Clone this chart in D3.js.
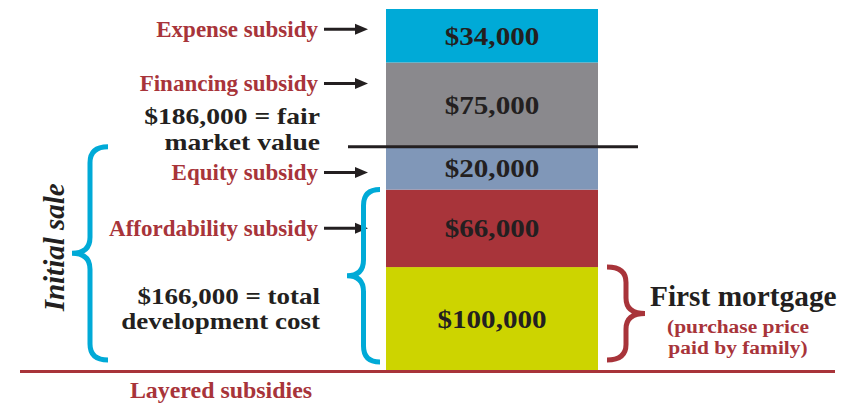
<!DOCTYPE html>
<html>
<head>
<meta charset="utf-8">
<script src="https://cdn.jsdelivr.net/npm/d3@7"></script>
<style>
  body { margin: 0; background: #fff; }
  text { font-family: "Liberation Serif", "Times New Roman", serif; font-weight: bold; }
</style>
</head>
<body>
<script>
// layers, bottom to top
const layers = ["First mortgage", "Affordability subsidy", "Equity subsidy", "Financing subsidy", "Expense subsidy"];
const amounts = [100000, 66000, 20000, 75000, 34000];
const colors = ["#cdd400", "#a8343a", "#8097b8", "#8a898d", "#00aad7"];
// where the side arrow hits each layer (fraction from the top of the layer)
const arrowAt = [null, 0.5, 0.6, 0.25, 0.38];

var w = 854, h = 408;
var red = "#a8343a", ink = "#231f20", cyan = "#00aad7";
var svg = d3.select("body").append("svg").attr("width", w).attr("height", h);
var fmt = d3.format("$,");

var x = d3.scaleBand().domain(["stack"]).range([386, 598]);
// infographic layers are not drawn to scale: each gets a floor height plus a share of its value
var segH = d3.scaleLinear().domain([0, 100000]).range([28, 103]);
var shown = amounts.map(segH);
var tops = d3.cumsum(shown);
var y = d3.scaleLinear().domain([0, d3.sum(shown)]).range([370, 9]);

var segs = amounts.map((v, i) => ({
    name: layers[i], v: v, i: i,
    y0: i ? tops[i - 1] : 0, y1: tops[i]
}));

// text helper: lines of text at (tx, ty), optionally widened (the original face is broader than Times)
function label(lines, tx, ty, o) {
    var g = svg.append("g").attr("transform", "translate(" + tx + "," + ty + ") scale(" + (o.sx || 1) + ",1)");
    var t = g.append("text")
        .attr("text-anchor", o.anchor || "start")
        .attr("fill", o.fill || ink)
        .style("font-size", o.size + "px");
    if (o.italic) t.style("font-style", "italic");
    [].concat(lines).forEach((s, i) => t.append("tspan").attr("x", 0).attr("y", i * (o.gap || 0)).attr("dy", o.dy || null).text(s));
    return g;
}

svg.selectAll("rect.seg")
    .data(segs)
    .enter().append("rect")
    .attr("class", "seg")
    .attr("x", x("stack"))
    .attr("width", x.bandwidth())
    .attr("y", d => y(d.y1))
    .attr("height", d => y(d.y0) - y(d.y1))
    .attr("fill", (d, i) => colors[i]);

segs.forEach(d => {
    label(fmt(d.v), x("stack") + x.bandwidth() / 2, (y(d.y0) + y(d.y1)) / 2,
        { size: 26, anchor: "middle", sx: 1.12, dy: "0.35em" });
});

// ground line
svg.append("line")
    .attr("x1", 20).attr("x2", 835)
    .attr("y1", y(0) + 1.5).attr("y2", y(0) + 1.5)
    .attr("stroke", red).attr("stroke-width", 3);

// fair market value line
var fairY = y(tops[2]);
svg.append("line")
    .attr("x1", 348).attr("x2", 638)
    .attr("y1", fairY).attr("y2", fairY)
    .attr("stroke", ink).attr("stroke-width", 3);

// subsidy labels with arrows
segs.filter(d => arrowAt[d.i] != null).forEach(d => {
    var ya = y(d.y1) + arrowAt[d.i] * (y(d.y0) - y(d.y1));
    label(d.name, 318, ya, { size: 23, anchor: "end", fill: red, dy: "0.32em" });
    svg.append("line")
        .attr("x1", 324).attr("x2", 357)
        .attr("y1", ya).attr("y2", ya)
        .attr("stroke", ink).attr("stroke-width", 3);
    svg.append("path")
        .attr("d", "M355," + (ya - 5.5) + "L368," + ya + "L355," + (ya + 5.5) + "Z")
        .attr("fill", ink);
});

var fairValue = d3.sum(amounts.slice(0, 3));
var devCost = d3.sum(amounts.slice(0, 2));

label([fmt(fairValue) + " = fair", "market value"], 320, fairY - 23, { size: 23, anchor: "end", sx: 1.2, gap: 26 });
var devMid = (y(0) + y(tops[0])) / 2;
label([fmt(devCost) + " = total", "development cost"], 320, devMid - 15, { size: 22.5, anchor: "end", sx: 1.2, gap: 25 });

// curly brace: tip at xt, open ends at xe, from ya to yb
function brace(xt, xe, ya, yb, color) {
    var xm = (xt + xe) / 2, ym = (ya + yb) / 2, r = Math.min(16, (yb - ya) / 6);
    var p = d3.path();
    p.moveTo(xe, ya);
    p.quadraticCurveTo(xm, ya, xm, ya + r);
    p.lineTo(xm, ym - r);
    p.quadraticCurveTo(xm, ym, xt, ym);
    p.quadraticCurveTo(xm, ym, xm, ym + r);
    p.lineTo(xm, yb - r);
    p.quadraticCurveTo(xm, yb, xe, yb);
    svg.append("path")
        .attr("d", p.toString())
        .attr("fill", "none")
        .attr("stroke", color)
        .attr("stroke-width", 5);
}

var braceBottom = y(0) - 10;
brace(72, 108, fairY, braceBottom, cyan);
brace(347, 380, y(tops[1]), y(0) - 8, cyan);
brace(645, 607, y(tops[0]), braceBottom, red);

// Initial sale
svg.append("text")
    .attr("transform", "translate(64," + ((fairY + braceBottom) / 2 - 6) + ") rotate(-90)")
    .attr("text-anchor", "middle")
    .style("font-size", "29px")
    .style("font-style", "italic")
    .attr("fill", ink)
    .text("Initial sale");

// First mortgage
var fmMid = (y(tops[0]) + braceBottom) / 2;
label(layers[0], 650, fmMid - 8, { size: 28.5, sx: 1.03 });
label(["(purchase price", "paid by family)"], 738, fmMid + 19, { size: 19.5, anchor: "middle", fill: red, sx: 1.1, gap: 21.7 });

label("Layered subsidies", 221, 398, { size: 23, anchor: "middle", fill: red, sx: 1.04 });
</script>
</body>
</html>
